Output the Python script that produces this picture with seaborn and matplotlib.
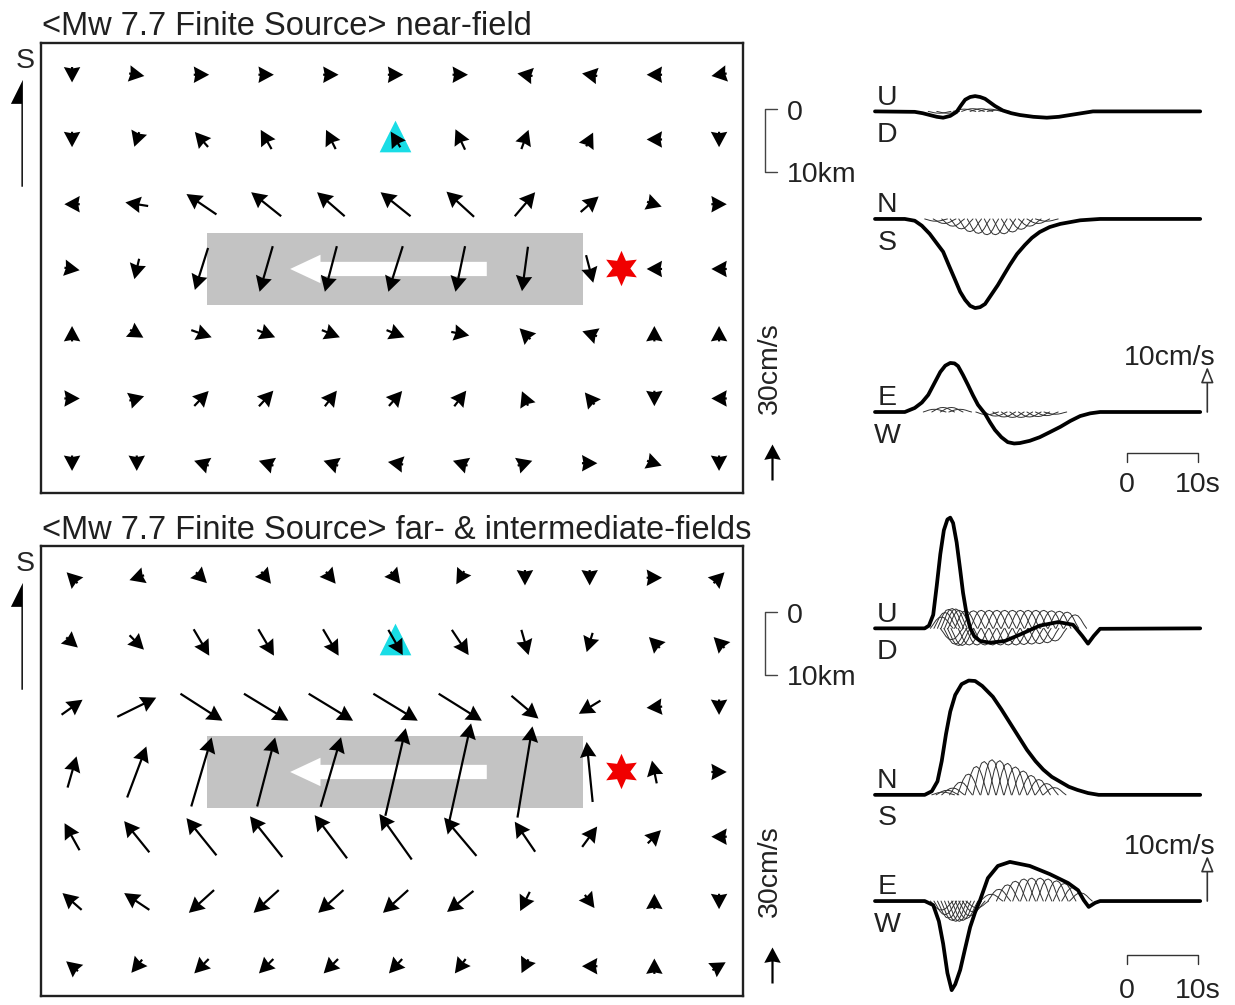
import numpy as np
import pandas as pd
import matplotlib
matplotlib.use("Agg")
import matplotlib.pyplot as plt
from matplotlib.patches import Rectangle
import seaborn as sns

# ---------------- data ----------------
# ground velocity at an 11 x 7 grid of stations, cm/s
# u = to the right on the map, v = up on the map (map drawn south-up)
near_u = [
    [0, 3, 3, 3, 3, 3, 3, -3, -3, -3, -3],
    [0, -1, -11, -9, -8, -8, -8, 6, 3, -3, 0],
    [-3, -19, -25, -25, -23, -25, -23, 17, 15, 3, 3],
    [3, -4, -11, -11, -10, -12, -8, -5, 6, -3, -3],
    [0, 10, 17, 15, 15, 15, 15, -2, -3, 0, 0],
    [3, 5, 12, 12, 10, 11, 10, -5, -2, 0, -3],
    [0, 0, -3, -3, -3, -3, -3, 3, 3, 3, 0],
]
near_v = [
    [-3, -0.5, 0, 0, 0, 0, 0, 0.5, 0.5, 0, -0.5],
    [-3, -3, 12.5, 16, 16, 13, 17, 16, 6, 0, -3],
    [0, 3, 17, 20, 20, 20, 21, 20, 13, -1, 0],
    [-0.5, -17, -35, -38, -38, -38, -38, -37, -23, 0, 0],
    [3, -6, -6, -6, -6, -6, -3, 2, 1, 3, 3],
    [0, 1.5, 12.5, 13, 13, 12.5, 13, 12, 2.5, -3, 0],
    [-3, -3, 1, 1, 1, 0.5, 1, 1, 0, -1, -3],
]
far_u = [
    [-2, -3, 2, 2, 2, 2, -1.5, 0, 0, 3, 2],
    [4, 12, 13, 13, 13, 12, 14, 6, -5, -2, -2],
    [17.5, 32.5, 35, 37, 37, 37, 36, 22.5, -18, -13, 0],
    [7.5, 16, 17, 15, 17, 17, 18, 12.5, -5, -4, 3],
    [-12.5, -21, -25, -27, -27, -27, -27, -17, 12.5, 11, -3],
    [-16, -21, -21, -21, -21, -21, -22, -8, 8, 0, 0],
    [-6, -9, -12, -12, -12, -11, -9, -3, -3, 0, 2.5],
]
far_v = [
    [2, -1, -2, -2.5, -2.5, -2.5, -2.5, -3, -3, 0, 2],
    [-3.5, -12, -22, -22, -22, -21, -21, -21, -16, 2, 2],
    [12.5, 16, -22.5, -22.5, -22.5, -22.5, -22.5, -19, -11, -1, -3],
    [26, 42.5, 57.5, 57.5, 58, 73, 81, 76, 50, 19, 0],
    [22.5, 26, 31, 34, 36, 38, 32, 25, 17, 11, 0],
    [14, 14, -19, -19, -19, -19, -17.5, -16, -11, 3, -3],
    [5, -11, -12, -12, -12, -12, -12, -6, 0, 3, 1.5],
]

# fault, rupture direction, epicentre and station (grid units, row 0 at top)
fault_x = [2.09, 7.90]
fault_y = [2.44, 3.55]
rupture_x = [6.41, 3.37]
rupture_y = 3.0
epi_x, epi_y = 8.49, 2.98
sta_x, sta_y = 4.99, 0.95

# waveforms at the station: time (s), velocity (cm/s)
near_ud_t = [0, 5.6, 6.7, 7.7, 8.7, 9.6, 10.6, 11.5, 12.1, 12.7, 13.4, 14.1, 14.8, 15.5, 16.2, 16.9,
             18.0, 19.2, 20.4, 22.3, 24.2, 25.9, 27.5, 29.1, 30.7, 45.8]
near_ud_v = [0, -0.1, -0.4, -0.8, -1.2, -1.4, -1.0, -0.1, 1.3, 2.6, 3.2, 3.4, 3.2, 2.8, 2.0, 1.2,
             0.2, -0.4, -0.8, -1.2, -1.4, -1.2, -0.8, -0.4, 0, 0]
near_ns_t = [0, 4.2, 5.6, 6.6, 7.7, 8.6, 9.6, 10.4, 11.3, 12.0, 12.7, 13.4, 14.1, 14.8, 15.5, 16.4,
             17.3, 18.2, 19.0, 20.0, 21.1, 22.1, 23.2, 24.6, 26.1, 28.9, 31.7, 45.8]
near_ns_v = [0, 0, -0.4, -1.5, -3.3, -5.2, -7.3, -10.3, -13.6, -16.2, -18.0, -19.3, -19.8, -19.6, -18.9, -16.8,
             -14.7, -12.3, -10.2, -7.8, -5.8, -4.2, -2.9, -1.8, -1.1, -0.3, 0, 0]
near_ew_t = [0, 4.2, 5.6, 6.6, 7.5, 8.4, 9.2, 9.9, 10.6, 11.2, 11.7, 12.4, 13.1, 13.8, 14.5, 15.5,
             16.2, 16.9, 17.8, 18.7, 19.6, 20.4, 21.8, 23.2, 24.6, 26.1, 27.5, 28.9, 30.3, 31.7, 45.8]
near_ew_v = [0, 0, 0.9, 2.1, 3.8, 6.5, 8.9, 10.3, 10.9, 10.8, 10.2, 8.2, 6.0, 3.7, 1.6, -0.4,
             -2.3, -4.0, -5.6, -6.7, -7.0, -6.9, -6.4, -5.6, -4.5, -3.3, -2.0, -0.9, -0.3, 0, 0]

far_ud_t = [0, 7.0, 7.6, 8.2, 8.7, 9.2, 9.7, 10.2, 10.6, 11.0, 11.5, 12.0, 12.4, 12.9, 13.4, 14.0,
            14.8, 16.2, 18.3, 20.4, 23.2, 25.8, 27.9, 29.2, 30.0, 30.8, 31.7, 45.8]
far_ud_v = [0, 0, 0.6, 3.0, 9.5, 16.5, 21.8, 24.2, 24.6, 23.4, 19.1, 13.0, 7.9, 3.2, 0.1, -1.8,
            -2.8, -3.2, -2.8, -1.4, 0.6, 1.4, 0.8, -1.7, -3.4, -1.7, -0.1, 0]
far_ns_t = [0, 7.0, 8.0, 8.8, 9.4, 10.0, 10.6, 11.3, 12.2, 13.2, 14.1, 15.1, 16.6, 17.8, 19.0, 20.2,
            21.4, 22.6, 23.7, 24.9, 26.1, 27.3, 28.5, 30.0, 31.5, 45.8]
far_ns_v = [0, 0, 0.8, 3.0, 7.5, 13.5, 18.5, 22.2, 24.6, 25.4, 25.3, 24.2, 21.8, 19.0, 16.0, 13.0,
            10.0, 7.5, 5.6, 4.0, 2.9, 1.8, 1.1, 0.4, 0, 0]
far_ew_t = [0, 7.0, 8.2, 9.0, 9.6, 10.2, 10.8, 11.3, 12.0, 12.7, 13.4, 14.1, 14.8, 15.9, 17.3, 19.0,
            21.8, 24.6, 27.2, 28.6, 29.4, 30.1, 31.0, 31.7, 45.8]
far_ew_v = [0, 0, -0.9, -4.5, -9.5, -16.0, -19.8, -18.5, -15.3, -10.5, -5.8, -2.5, 0.2, 5.1, 7.8, 8.7,
            7.8, 6.0, 4.0, 2.4, 0.2, -1.3, -0.4, 0, 0]

# single sub-source pulse shape, and onset (s) / amplitude (cm/s) of each sub-source
pulse_t = [0, 0.4, 0.8, 1.2, 1.6, 2.0, 2.4, 2.8, 3.2]
pulse_a = [0, 0.35, 0.72, 0.95, 1.0, 0.92, 0.66, 0.3, 0]

near_ud_sub_t = [7.5, 8.7, 11.0, 12.2, 13.4, 14.6, 15.8]
near_ud_sub_a = [-0.4, -0.4, 0.5, 0.6, 0.6, 0.5, 0.3]
near_ns_sub_t = [7.0, 8.2, 9.4, 10.6, 11.8, 13.0, 14.2, 15.4, 16.6, 17.8, 19.0, 20.2, 21.4, 22.6]
near_ns_sub_a = [-0.5, -1.0, -1.6, -2.2, -2.8, -3.2, -3.5, -3.5, -3.3, -2.9, -2.3, -1.6, -1.0, -0.5]
near_ew_sub_t = [6.8, 8.0, 9.2, 10.4, 14.2, 15.4, 16.6, 17.8, 19.0, 20.2, 21.4, 22.6, 23.8]
near_ew_sub_a = [0.6, 1.0, 1.0, 0.6, -0.6, -0.9, -1.1, -1.2, -1.2, -1.1, -1.0, -0.8, -0.5]

far_ud_sub_t = [7.8, 8.3, 8.8, 9.3, 9.8, 10.3, 11.2, 12.3, 13.4, 14.5, 15.6, 16.7, 17.8, 18.9, 20.0,
                21.1, 22.2, 23.3, 24.4, 25.5, 26.6,
                9.2, 9.7, 10.2, 10.7, 11.7, 12.8, 13.9, 15.0, 16.1, 17.2, 18.3, 19.4, 20.5, 21.6, 22.7, 23.8]
far_ud_sub_a = [2.5, 3.5, 4.2, 4.4, 4.3, 4.0, 3.9, 3.9, 4.0, 4.0, 4.0, 4.0, 4.0, 4.0, 4.0,
                4.0, 4.0, 3.9, 3.8, 3.6, 3.0,
                -2.5, -3.5, -3.8, -3.8, -3.7, -3.7, -3.7, -3.7, -3.7, -3.7, -3.7, -3.6, -3.5, -3.4, -3.2, -2.8]
far_ns_sub_t = [8.0, 8.6, 9.4, 10.5, 11.6, 12.7, 13.8, 14.9, 16.0, 17.1, 18.2, 19.3, 20.4, 21.5, 22.6, 23.7]
far_ns_sub_a = [0.6, 1.0, 1.5, 2.8, 4.6, 6.3, 7.4, 7.8, 7.6, 7.0, 6.2, 5.3, 4.3, 3.4, 2.5, 1.6]
far_ew_sub_t = [7.8, 8.3, 8.8, 9.3, 9.8, 10.3, 10.8, 11.3, 11.8, 12.3, 12.8,
                14.8, 15.9, 17.1, 18.2, 19.4, 20.5, 21.7, 22.8, 24.0, 25.1, 26.3, 27.4]
far_ew_sub_a = [-2.0, -3.0, -3.8, -4.3, -4.5, -4.5, -4.3, -3.9, -3.3, -2.4, -1.5,
                1.5, 2.6, 3.6, 4.4, 4.9, 5.1, 5.1, 4.9, 4.5, 3.9, 3.0, 1.8]

titles = ["<Mw 7.7 Finite Source> near-field",
          "<Mw 7.7 Finite Source> far- & intermediate-fields"]
comp_labels = [("U", "D"), ("N", "S"), ("E", "W")]

# ---------------- style / layout ----------------
W, H = 1235, 1005
PX_PER_CMS = 1.2      # map arrow length, pixels per cm/s
SHAFT_PX = 2.2
HEAD_W = 7.5          # head width, in shaft widths
HEAD_L = 7.0          # head length, in shaft widths
KM_PER_CELL = 10.3
FS_TITLE = 23.5
FS = 20.5

sns.set_theme(style="white")
plt.rcParams["font.family"] = ["Liberation Sans", "DejaVu Sans"]

fig = plt.figure(figsize=(W / 100, H / 100), dpi=100)


def box(left, top, right, bottom):
    return [left / W, 1 - bottom / H, (right - left) / W, (bottom - top) / H]


def arrows(ax, x, y, u, v):
    u = np.asarray(u, float)
    v = np.asarray(v, float)
    mag = np.hypot(u, v)
    disp = np.maximum(mag, HEAD_L * SHAFT_PX / PX_PER_CMS)
    return ax.quiver(x, y, u / mag * disp, v / mag * disp, angles="uv",
                     scale_units="dots", scale=1 / PX_PER_CMS, units="dots",
                     width=SHAFT_PX, headwidth=HEAD_W, headlength=HEAD_L,
                     headaxislength=HEAD_L - 0.6, minshaft=1, minlength=0,
                     pivot="middle", color="black", zorder=3)


def draw_map(ax, u, v):
    ax.set_xlim(-0.48, 10.37)
    ax.set_ylim(6.46, -0.49)
    ax.set_xticks([])
    ax.set_yticks([])
    for s in ax.spines.values():
        s.set_linewidth(1.7)
        s.set_color("#202020")

    ax.add_patch(Rectangle((fault_x[0], fault_y[0]), fault_x[1] - fault_x[0],
                           fault_y[1] - fault_y[0], color="#c3c3c3", lw=0, zorder=1))
    ax.arrow(rupture_x[0], rupture_y, rupture_x[1] - rupture_x[0], 0, width=0.22,
             head_width=0.44, head_length=0.47, length_includes_head=True,
             color="white", lw=0, zorder=2)
    ax.scatter([sta_x], [sta_y], marker="^", s=520, color="#19dde6", lw=0, zorder=2)

    cols, rows = np.meshgrid(np.arange(len(u[0])), np.arange(len(u)))
    arrows(ax, cols, rows, u, v)
    ax.scatter([epi_x], [epi_y], marker=(6, 1, 0), s=650, color="#f00000", lw=0, zorder=4)

    # orientation arrow "S"
    ax.text(-0.73, -0.11, "S", fontsize=FS, ha="center", va="baseline")
    ax.arrow(-0.76, 1.73, 0, -1.65, shape="left", width=0.045, head_width=0.37,
             head_length=0.37, length_includes_head=True, color="black", lw=0,
             clip_on=False)

    # distance scale
    y0, y1 = 0.53, 0.53 + 10 / KM_PER_CELL
    ax.plot([10.9, 10.71, 10.71, 10.9], [y0, y0, y1, y1], color="#444444", lw=1.0,
            clip_on=False)
    ax.text(11.05, 0.70, "0", fontsize=FS, ha="left", va="baseline", color="#222222")
    ax.text(11.05, 1.65, "10km", fontsize=FS, ha="left", va="baseline", color="#222222")

    # velocity scale
    q = arrows(ax, [10.82], [5.98], [0], [30])
    q.set_clip_on(False)
    ax.text(10.79, 4.53, "30cm/s", fontsize=FS, rotation=90, ha="center", va="center",
            color="#222222")


def draw_waves(ax, traces, subs, offs, bar_y, num_y):
    ax.set_xlim(-2.11, 50.7)
    ax.set_ylim(0, 100)
    ax.axis("off")

    thin = []
    k = 0
    for (st, sa), off in zip(subs, offs):
        for t0, a in zip(st, sa):
            thin.append(pd.DataFrame({"t": np.add(pulse_t, t0),
                                      "y": off + a * np.asarray(pulse_a), "id": k}))
            k += 1
    thin = pd.concat(thin, ignore_index=True)
    sns.lineplot(data=thin, x="t", y="y", units="id", estimator=None, sort=False,
                 color="#303030", lw=0.7, ax=ax, legend=False)

    thick = []
    for i, ((tt, vv), off) in enumerate(zip(traces, offs)):
        thick.append(pd.DataFrame({"t": tt, "y": off + np.asarray(vv), "id": i}))
    thick = pd.concat(thick, ignore_index=True)
    sns.lineplot(data=thick, x="t", y="y", units="id", estimator=None, sort=False,
                 color="black", lw=2.7, ax=ax, legend=False)
    for line in ax.lines:
        line.set_clip_on(False)
        line.set_solid_joinstyle("round")

    for (up, dn), off in zip(comp_labels, offs):
        ax.text(1.7, off + 1.5, up, fontsize=FS, ha="center", va="baseline", color="#222222")
        ax.text(1.7, off - 6.8, dn, fontsize=FS, ha="center", va="baseline", color="#222222")

    ew = offs[2]
    ax.text(41.5, ew + 10.5, "10cm/s", fontsize=FS, ha="center", va="baseline",
            color="#222222")
    ax.annotate("", xy=(46.8, ew + 10), xytext=(46.8, ew),
                arrowprops=dict(arrowstyle="-|>,head_length=0.8,head_width=0.32",
                                fc="white", ec="#333333", lw=1.2, shrinkA=0, shrinkB=0),
                annotation_clip=False)
    ax.plot([35.5, 35.5, 45.5, 45.5], [ew + bar_y - 2, ew + bar_y, ew + bar_y, ew + bar_y - 2],
            color="#333333", lw=1.0, clip_on=False)
    ax.text(35.5, ew + num_y, "0", fontsize=FS, ha="center", va="baseline", color="#222222")
    ax.text(45.5, ew + num_y, "10s", fontsize=FS, ha="center", va="baseline", color="#222222")


panels = [
    dict(u=near_u, v=near_v, top=43, bottom=493, title_y=35,
         traces=[(near_ud_t, near_ud_v), (near_ns_t, near_ns_v), (near_ew_t, near_ew_v)],
         subs=[(near_ud_sub_t, near_ud_sub_a), (near_ns_sub_t, near_ns_sub_a),
               (near_ew_sub_t, near_ew_sub_a)],
         offs=[84.8, 60.9, 18.0], bar_y=-9.1, num_y=-17.7),
    dict(u=far_u, v=far_v, top=546, bottom=996, title_y=539,
         traces=[(far_ud_t, far_ud_v), (far_ns_t, far_ns_v), (far_ew_t, far_ew_v)],
         subs=[(far_ud_sub_t, far_ud_sub_a), (far_ns_sub_t, far_ns_sub_a),
               (far_ew_sub_t, far_ew_sub_a)],
         offs=[81.7, 44.7, 21.1], bar_y=-12.0, num_y=-21.6),
]

for p, title in zip(panels, titles):
    ax_map = fig.add_axes(box(41, p["top"], 743, p["bottom"]))
    draw_map(ax_map, p["u"], p["v"])
    ax_w = fig.add_axes(box(860, p["top"], 1235, p["bottom"]))
    draw_waves(ax_w, p["traces"], p["subs"], p["offs"], p["bar_y"], p["num_y"])
    fig.text(42 / W, 1 - p["title_y"] / H, title, fontsize=FS_TITLE, ha="left",
             va="baseline", color="#202020")

fig.savefig("out.png", dpi=100, facecolor="white")
